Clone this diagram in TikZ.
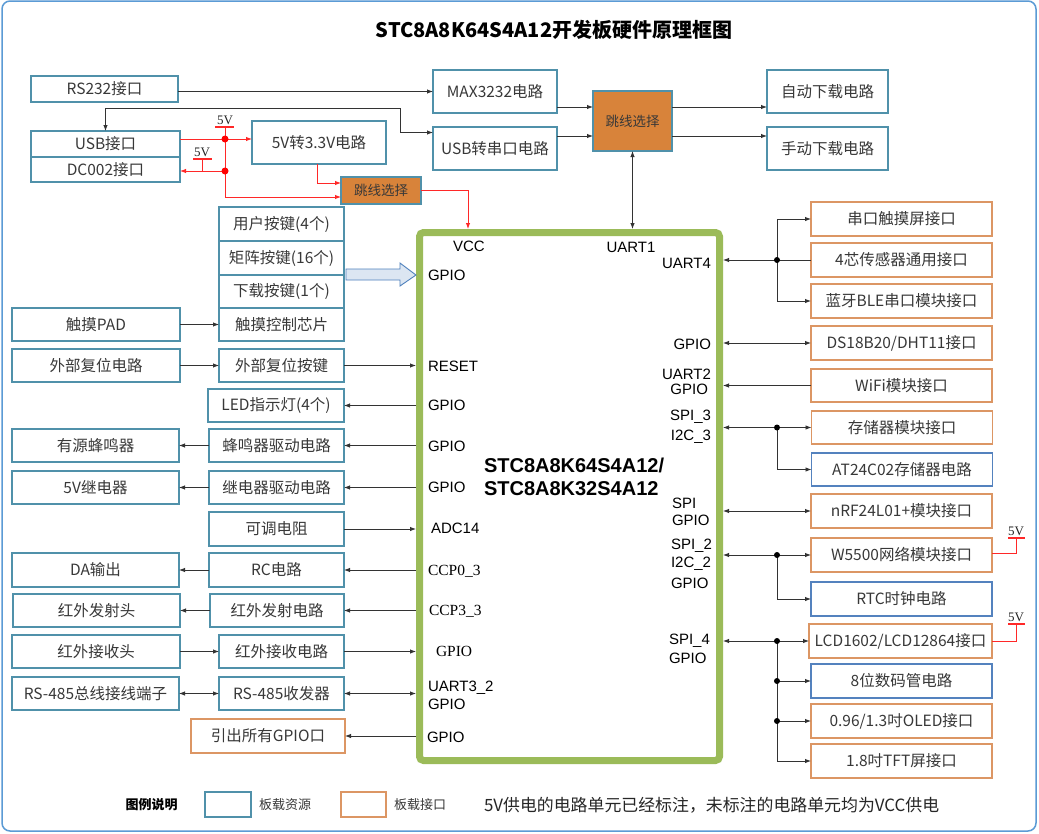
\documentclass[tikz,border=0pt]{standalone}
\usepackage{fontspec}
\setmainfont{Noto Sans CJK SC}
\newfontfamily\pinsf{Liberation Sans}
\newfontfamily\pinrm{Liberation Serif}
\usetikzlibrary{arrows.meta,calc}
\definecolor{resc}{RGB}{80,145,170}
\definecolor{resb}{RGB}{84,130,190}
\definecolor{ifcol}{RGB}{220,150,100}
\definecolor{jmpf}{RGB}{216,131,58}
\definecolor{mcug}{RGB}{155,187,89}
\definecolor{txt}{RGB}{56,56,56}
\definecolor{framec}{RGB}{91,155,213}
\definecolor{pwr}{RGB}{255,40,40}
\definecolor{blkf}{RGB}{220,230,242}
\definecolor{blkd}{RGB}{79,129,189}
\begin{document}
\begin{tikzpicture}[x=1pt,y=-1pt,
  every node/.style={inner sep=0pt,outer sep=0pt},
  res/.style={draw=resc,line width=1.5pt,fill=white,text=txt,font=\fontsize{15.5}{18}\selectfont},
  resr/.style={res,draw=resb},
  ifb/.style={res,draw=ifcol},
  jmp/.style={draw=resc,line width=1.5pt,fill=jmpf,text=txt,font=\fontsize{13.5}{16}\selectfont},
  pin/.style={font=\pinsf\fontsize{15}{17}\selectfont,text=black},
  pinr/.style={font=\pinrm\fontsize{15.5}{17}\selectfont,text=black},
  ln/.style={draw=black!80,line width=0.9pt},
  con/.style={ln,-{Latex[length=6pt,width=4.5pt]}},
  dcon/.style={ln,{Latex[length=6pt,width=4.5pt]}-{Latex[length=6pt,width=4.5pt]}},
  pw/.style={draw=pwr,line width=1pt},
  pwa/.style={pw,-{Latex[length=6pt,width=4.5pt]}},
  vlab/.style={font=\pinrm\fontsize{13}{14}\selectfont,text=black!85},
]
\fill[white] (0,0) rectangle (1039,833);
\useasboundingbox (0,0) rectangle (1039,833);
\draw[framec,line width=1.5pt,rounded corners=8pt] (2,1) rectangle (1036,831);

% title
\node[font=\bfseries\fontsize{20}{24}\selectfont] (title) at (554,30) {STC8A8K64S4A12开发板硬件原理框图};

% MCU
\node[draw=mcug,line width=7pt,rounded corners=4pt,minimum width=300pt,minimum height=528pt,outer sep=3.5pt] (mcu) at (569.5,496.5) {};
\node[font=\pinsf\bfseries\fontsize{20}{24}\selectfont,anchor=west] (chipa) at (484,465) {STC8A8K64S4A12/};
\node[font=\pinsf\bfseries\fontsize{20}{24}\selectfont,anchor=west] (chipb) at (484,489) {STC8A8K32S4A12};

% top boxes
\node[res,minimum width=147pt,minimum height=26pt] (rs232) at (104.5,89) {RS232接口};
\node[res,minimum width=124pt,minimum height=43pt] (max) at (495,91.5) {MAX3232电路};
\node[res,minimum width=124pt,minimum height=43pt] (usbser) at (495,148.5) {USB转串口电路};
\node[jmp,minimum width=79pt,minimum height=60pt] (jmpa) at (632.5,121) {跳线选择};
\node[res,minimum width=121pt,minimum height=43pt] (auto) at (827.5,91.5) {自动下载电路};
\node[res,minimum width=121pt,minimum height=43pt] (manual) at (827.5,148.5) {手动下载电路};
\node[res,minimum width=149pt,minimum height=26pt] (usb) at (105.5,144) {USB接口};
\node[res,minimum width=149pt,minimum height=25pt] (dc) at (105.5,169.5) {DC002接口};
\node[res,minimum width=134pt,minimum height=43pt] (vconv) at (319,142.5) {5V转3.3V电路};
\node[jmp,minimum width=80pt,minimum height=27pt] (jmpb) at (381,190.5) {跳线选择};

% left boxes
\node[res,minimum width=125pt,minimum height=34pt] (key1) at (281.5,224) {用户按键(4个)};
\node[res,minimum width=125pt,minimum height=34pt] (key2) at (281.5,258) {矩阵按键(16个)};
\node[res,minimum width=125pt,minimum height=33pt] (key3) at (281.5,291.5) {下载按键(1个)};
\node[res,minimum width=125pt,minimum height=33pt] (key4) at (281.5,324.5) {触摸控制芯片};
\node[res,minimum width=168pt,minimum height=33pt] (pad) at (96,324.5) {触摸PAD};
\node[res,minimum width=168pt,minimum height=33pt] (rstc) at (96,365.5) {外部复位电路};
\node[res,minimum width=125pt,minimum height=33pt] (rstk) at (281.5,365.5) {外部复位按键};
\node[res,minimum width=136pt,minimum height=33pt] (led) at (276,405.5) {LED指示灯(4个)};
\node[res,minimum width=167pt,minimum height=33pt] (buzz) at (95.5,445.5) {有源蜂鸣器};
\node[res,minimum width=135pt,minimum height=33pt] (buzzd) at (276.5,445.5) {蜂鸣器驱动电路};
\node[res,minimum width=167pt,minimum height=33pt] (relay) at (95.5,487.5) {5V继电器};
\node[res,minimum width=135pt,minimum height=33pt] (relayd) at (276.5,487.5) {继电器驱动电路};
\node[res,minimum width=135pt,minimum height=34pt] (pot) at (276.5,529) {可调电阻};
\node[res,minimum width=167pt,minimum height=34pt] (da) at (95.5,570) {DA输出};
\node[res,minimum width=135pt,minimum height=34pt] (rcc) at (276.5,570) {RC电路};
\node[res,minimum width=167pt,minimum height=33pt] (irtx) at (96.5,610.5) {红外发射头};
\node[res,minimum width=134pt,minimum height=33pt] (irtxd) at (277,610.5) {红外发射电路};
\node[res,minimum width=168pt,minimum height=33pt] (irrx) at (96,651.5) {红外接收头};
\node[res,minimum width=125pt,minimum height=33pt] (irrxd) at (281.5,651.5) {红外接收电路};
\node[res,minimum width=167pt,minimum height=33pt] (bus) at (95.5,693.5) {RS-485总线接线端子};
\node[res,minimum width=125pt,minimum height=33pt] (xcvr) at (281.5,693.5) {RS-485收发器};
\node[ifb,minimum width=154pt,minimum height=34pt] (gout) at (268,736) {引出所有GPIO口};

% right boxes
\node[ifb,minimum width=181pt,minimum height=34pt] (touch) at (901.5,219) {串口触摸屏接口};
\node[ifb,minimum width=181pt,minimum height=34pt] (sens) at (901.5,260) {4芯传感器通用接口};
\node[ifb,minimum width=181pt,minimum height=34pt] (ble) at (901.5,301) {蓝牙BLE串口模块接口};
\node[ifb,minimum width=181pt,minimum height=34pt] (ds) at (901.5,343) {DS18B20/DHT11接口};
\node[ifb,minimum width=181pt,minimum height=33pt] (wifi) at (901.5,385.5) {WiFi模块接口};
\node[ifb,minimum width=181pt,minimum height=33pt] (mem) at (902,427.5) {存储器模块接口};
\node[resr,minimum width=181pt,minimum height=33pt] (at24) at (902,469.5) {AT24C02存储器电路};
\node[ifb,minimum width=181pt,minimum height=34pt] (nrf) at (901.5,511) {nRF24L01+模块接口};
\node[ifb,minimum width=181pt,minimum height=34pt] (w5500) at (901.5,555) {W5500网络模块接口};
\node[resr,minimum width=181pt,minimum height=34pt] (rtc) at (901.5,599) {RTC时钟电路};
\node[ifb,minimum width=183pt,minimum height=34pt] (lcd) at (900.5,641) {LCD1602/LCD12864接口};
\node[resr,minimum width=181pt,minimum height=34pt] (seg) at (901.5,681) {8位数码管电路};
\node[ifb,minimum width=181pt,minimum height=34pt] (oled) at (901.5,721) {0.96/1.3吋OLED接口};
\node[ifb,minimum width=181pt,minimum height=34pt] (tft) at (901.5,761) {1.8吋TFT屏接口};

% pin labels left
\node[pin,anchor=west] (pvcc) at (453,246) {VCC};
\node[pin,anchor=west] (pga) at (428,275) {GPIO};
\node[pin,anchor=west] (prst) at (428,366) {RESET};
\node[pin,anchor=west] (pgb) at (428,405) {GPIO};
\node[pin,anchor=west] (pgc) at (428,446) {GPIO};
\node[pin,anchor=west] (pgd) at (428,487) {GPIO};
\node[pin,anchor=west] (padc) at (431,528) {ADC14};
\node[pinr,anchor=west] (pcza) at (428,571) {CCP0\_3};
\node[pinr,anchor=west] (pczb) at (429,611) {CCP3\_3};
\node[pinr,anchor=west] (pge) at (436,651) {GPIO};
\node[pin,anchor=west] (puc) at (428,688) {UART3\_2};
\node[pin,anchor=west] (pgf) at (428,704) {GPIO};
\node[pin,anchor=west] (pgg) at (427,737) {GPIO};
% pin labels right
\node[pin] (pua) at (631,247) {UART1};
\node[pin,anchor=east] (pud) at (711,263) {UART4};
\node[pin,anchor=east] (pgh) at (711,344) {GPIO};
\node[pin,anchor=east] (pub) at (711,374) {UART2};
\node[pin,anchor=east] (pgi) at (708,389) {GPIO};
\node[pin,anchor=east] (psc) at (711,417) {SPI\_3};
\node[pin,anchor=east] (pic) at (711,437) {I2C\_3};
\node[pin,anchor=west] (pspi) at (672,503) {SPI};
\node[pin,anchor=west] (pgj) at (672,520) {GPIO};
\node[pin,anchor=west] (psb) at (671,546) {SPI\_2};
\node[pin,anchor=west] (pib) at (671,564) {I2C\_2};
\node[pin,anchor=west] (pgk) at (671,583) {GPIO};
\node[pin,anchor=west] (psd) at (669,641) {SPI\_4};
\node[pin,anchor=west] (pgl) at (669,658) {GPIO};

% top connectors
\draw[con] (rs232.east |- max.west) -- (max.west);
\coordinate (uc) at (400,108);
\draw[dcon] (usb.north) |- (uc) |- ($(usbser.west)+(0,-16)$);
\coordinate (ma) at ($(max.east)+(0,15.5)$);
\coordinate (mb) at ($(usbser.east)+(0,-12.5)$);
\draw[con] (ma) -- (ma -| jmpa.west);
\draw[con] (mb) -- (mb -| jmpa.west);
\draw[con] (ma -| jmpa.east) -- (ma -| auto.west);
\draw[con] (mb -| jmpa.east) -- (mb -| manual.west);
\draw[dcon] (jmpa.south) -- (jmpa.south |- mcu.north);

% power (red)
\coordinate (ja) at (225,139);
\coordinate (jb) at (225,171);
\coordinate (jc) at (225,197);
\draw[pwa] (usb.east |- ja) -- (ja -| vconv.west);
\draw[pwa] (jb) -- (jb -| dc.east);
\draw[pwa] (ja) -- (jc) -- (jc -| jmpb.west);
\draw[pwa] ($(vconv.south)+(-2,0)$) |- ($(jmpb.west)+(0,-7.5)$);
\coordinate (vcc) at (468,0);
\draw[pwa] (jmpb.east) -| (vcc |- mcu.north);
\coordinate (ta) at (225,127);
\draw[pw] (ja) -- (ta);
\draw[pwr,line width=1.3pt] ($(ta)+(-10,0)$) -- ($(ta)+(9,0)$);
\node[vlab,anchor=south] (tla) at ($(ta)+(0,-2)$) {5V};
\coordinate (tb) at (202,159);
\draw[pw] (tb |- jb) -- (tb);
\draw[pwr,line width=1.3pt] ($(tb)+(-9,0)$) -- ($(tb)+(10,0)$);
\node[vlab,anchor=south] (tlb) at ($(tb)+(0,-2)$) {5V};
\fill[red] (ja) circle (3.5);
\fill[red] (jb) circle (3.5);

% block arrow from keys
\coordinate (ba) at (key2.south east);
\filldraw[fill=blkf,draw=blkd,line width=0.9pt] ($(ba)+(2,-6)$) -- ($(ba)+(56,-6)$) -- ($(ba)+(56,-12)$) -- (mcu.west |- ba) -- ($(ba)+(56,11)$) -- ($(ba)+(56,5)$) -- ($(ba)+(2,5)$) -- cycle;

% left connectors
\draw[con] (pad.east) -- (key4.west);
\draw[con] (rstc.east) -- (rstk.west);
\draw[con] (rstk.east) -- (rstk.east -| mcu.west);
\draw[con] (led.east -| mcu.west) -- (led.east);
\draw[con] (buzzd.east -| mcu.west) -- (buzzd.east);
\draw[con] (buzzd.west) -- (buzz.east);
\draw[con] (relayd.east -| mcu.west) -- (relayd.east);
\draw[con] (relayd.west) -- (relay.east);
\draw[con] (pot.east) -- (pot.east -| mcu.west);
\draw[con] (rcc.east -| mcu.west) -- (rcc.east);
\draw[con] (rcc.west) -- (da.east);
\draw[con] (irtxd.east -| mcu.west) -- (irtxd.east);
\draw[con] (irtxd.west) -- (irtx.east);
\draw[con] (irrx.east) -- (irrxd.west);
\draw[con] (irrxd.east) -- (irrxd.east -| mcu.west);
\draw[dcon] (bus.east) -- (xcvr.west);
\draw[dcon] (xcvr.east) -- (xcvr.east -| mcu.west);
\draw[con] (gout.east -| mcu.west) -- (gout.east);

% right connectors
\coordinate (ra) at (777,260);
\draw[con] (ra) -- (ra -| mcu.east);
\draw[ln] (sens.west) -- (ra);
\draw[con] (ra) |- (touch.west);
\draw[con] (ra) |- (ble.west);
\fill (ra) circle (3);
\draw[dcon] (ds.west -| mcu.east) -- (ds.west);
\draw[con] (wifi.west) -- (wifi.west -| mcu.east);
\coordinate (rb) at (777,427.5);
\draw[con] (rb) -- (rb -| mcu.east);
\draw[con] (rb) -- (mem.west);
\draw[con] (rb) |- (at24.west);
\fill (rb) circle (3);
\draw[dcon] (nrf.west -| mcu.east) -- (nrf.west);
\coordinate (rw) at (777,555);
\draw[con] (rw) -- (rw -| mcu.east);
\draw[con] (rw) -- (w5500.west);
\draw[con] (rw) |- (rtc.west);
\fill (rw) circle (3);
\coordinate (rl) at (777,641);
\draw[con] (rl) -- (rl -| mcu.east);
\draw[con] (rl) -- (lcd.west);
\draw[con] (rl) |- (tft.west);
\draw[con] (seg.west -| rl) -- (seg.west);
\draw[con] (oled.west -| rl) -- (oled.west);
\fill (rl) circle (3);
\fill (seg.west -| rl) circle (3);
\fill (oled.west -| rl) circle (3);

% right 5V tags
\coordinate (wt) at (1016,538);
\draw[pw] ($(w5500.east)+(0,-2)$) -| (wt);
\draw[pwr,line width=1.3pt] ($(wt)+(-8,0)$) -- ($(wt)+(9,0)$);
\node[vlab,anchor=south] (wtl) at ($(wt)+(0,-2)$) {5V};
\coordinate (lt) at (1016,624);
\draw[pw] (lcd.east) -| (lt);
\draw[pwr,line width=1.3pt] ($(lt)+(-8,0)$) -- ($(lt)+(9,0)$);
\node[vlab,anchor=south] (ltl) at ($(lt)+(0,-2)$) {5V};

% legend
\node[font=\bfseries\fontsize{13}{15}\selectfont] (lgt) at (151.5,805) {图例说明};
\node[draw=resc,line width=1.5pt,minimum width=46pt,minimum height=25pt] (lgb) at (228,804.5) {};
\node[font=\fontsize{13}{15}\selectfont,text=txt,anchor=west] (lgbt) at (259,805) {板载资源};
\node[draw=ifcol,line width=1.5pt,minimum width=45pt,minimum height=25pt] (lgo) at (363.5,804.5) {};
\node[font=\fontsize{13}{15}\selectfont,text=txt,anchor=west] (lgot) at (394,805) {板载接口};
\node[font=\fontsize{16.9}{19}\selectfont,text=black!85,anchor=west] (note) at (484,805) {5V供电的电路单元已经标注，未标注的电路单元均为VCC供电};
\end{tikzpicture}
\end{document}
